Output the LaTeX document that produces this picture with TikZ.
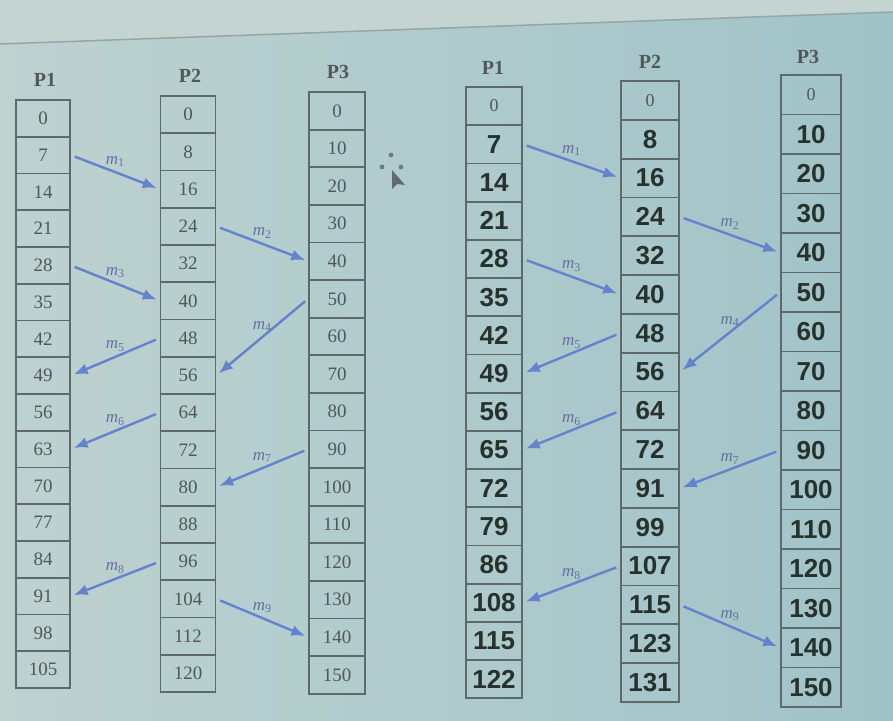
\documentclass[tikz,border=0pt]{standalone}
\usepackage{fontspec}
\setmainfont{Liberation Serif}
\newfontfamily\handfont{Liberation Sans}
\usetikzlibrary{arrows.meta}
\definecolor{bgL}{RGB}{190,210,208}
\definecolor{bgR}{RGB}{160,195,200}
\definecolor{topc}{RGB}{196,212,209}
\definecolor{edgec}{RGB}{150,165,165}
\definecolor{boxline}{RGB}{95,105,105}
\definecolor{printnum}{RGB}{80,88,88}
\definecolor{handnum}{RGB}{40,50,45}
\definecolor{arrowc}{RGB}{100,130,205}
\definecolor{lblc}{RGB}{100,112,165}
\definecolor{cursorc}{RGB}{80,90,95}
\tikzset{
  cellL/.style={draw=boxline, line width=1.8pt, inner sep=0pt, text=printnum, font=\fontsize{19}{19}\selectfont},
  cellR/.style={draw=boxline, line width=1.8pt, inner sep=0pt, text=handnum, font=\handfont\bfseries\fontsize{26}{26}\selectfont},
  head/.style={text=printnum, font=\bfseries\fontsize{20}{20}\selectfont},
  msg/.style={draw=arrowc, line width=2.4pt, -{Latex[length=14pt,width=11pt]}, shorten <=4pt, shorten >=3pt},
  lbl/.style={text=lblc, font=\fontsize{17}{17}\selectfont\itshape, inner sep=2pt, above=2pt, midway}
}
\newcommand\clkcol[7]{%
  \foreach \cv [count=\ci from 0] in {#7} {
    \node[#6, minimum width=#4pt, minimum height=#5pt] (#1-\ci) at (#2, {#3+(\ci+0.5)*#5}) {\cv};
  }
}
\newcommand\mlab[1]{m\textsubscript{\upshape #1}}
\newcommand\pzero{{\rmfamily\mdseries\color{printnum}\fontsize{18}{18}\selectfont 0}}
\begin{document}
\begin{tikzpicture}[x=1pt,y=-1pt]
\useasboundingbox (0,0) rectangle (893,720);
\fill[left color=bgL, right color=bgR] (0,0) rectangle (893,720);
\fill[topc] (0,0) -- (893,0) -- (893,12) -- (0,44) -- cycle;
\draw[edgec, line width=1.5pt] (0,44) -- (893,12);

% left diagram (printed)
\node[head] (hL1) at (45,80) {P1};
\node[head] (hL2) at (190,76) {P2};
\node[head] (hL3) at (338,72) {P3};
\clkcol{L1}{43}{100}{54}{36.75}{cellL}{0,7,14,21,28,35,42,49,56,63,70,77,84,91,98,105}
\clkcol{L2}{188}{96}{55}{37.25}{cellL}{0,8,16,24,32,40,48,56,64,72,80,88,96,104,112,120}
\clkcol{L3}{337}{92}{56}{37.6}{cellL}{0,10,20,30,40,50,60,70,80,90,100,110,120,130,140,150}

\draw[msg] (L1-1.east) -- (L2-2.west) node[lbl] {\mlab{1}};
\draw[msg] (L2-3.east) -- (L3-4.west) node[lbl] {\mlab{2}};
\draw[msg] (L1-4.east) -- (L2-5.west) node[lbl] {\mlab{3}};
\draw[msg] (L3-5.west) -- (L2-7.east) node[lbl] {\mlab{4}};
\draw[msg] (L2-6.west) -- (L1-7.east) node[lbl] {\mlab{5}};
\draw[msg] (L2-8.west) -- (L1-9.east) node[lbl] {\mlab{6}};
\draw[msg] (L3-9.west) -- (L2-10.east) node[lbl] {\mlab{7}};
\draw[msg] (L2-12.west) -- (L1-13.east) node[lbl] {\mlab{8}};
\draw[msg] (L2-13.east) -- (L3-14.west) node[lbl] {\mlab{9}};

% cursor
\fill[cursorc, opacity=0.7] (391,155) circle (2.4);
\fill[cursorc, opacity=0.7] (382,167) circle (2.4);
\fill[cursorc, opacity=0.7] (401,167) circle (2.4);
\fill[cursorc, opacity=0.85] (392,170) -- (392,189) -- (397,184) -- (405,185) -- cycle;

% right diagram (handwritten)
\node[head] (hR1) at (493,68) {P1};
\node[head] (hR2) at (650,62) {P2};
\node[head] (hR3) at (808,57) {P3};
\clkcol{R1}{494}{87}{56}{38.2}{cellR}{\pzero,7,14,21,28,35,42,49,56,65,72,79,86,108,115,122}
\clkcol{R2}{650}{81}{58}{38.8}{cellR}{\pzero,8,16,24,32,40,48,56,64,72,91,99,107,115,123,131}
\clkcol{R3}{811}{75}{60}{39.5}{cellR}{\pzero,10,20,30,40,50,60,70,80,90,100,110,120,130,140,150}

\draw[msg] (R1-1.east) -- (R2-2.west) node[lbl] {\mlab{1}};
\draw[msg] (R2-3.east) -- (R3-4.west) node[lbl] {\mlab{2}};
\draw[msg] (R1-4.east) -- (R2-5.west) node[lbl] {\mlab{3}};
\draw[msg] (R3-5.west) -- (R2-7.east) node[lbl] {\mlab{4}};
\draw[msg] (R2-6.west) -- (R1-7.east) node[lbl] {\mlab{5}};
\draw[msg] (R2-8.west) -- (R1-9.east) node[lbl] {\mlab{6}};
\draw[msg] (R3-9.west) -- (R2-10.east) node[lbl] {\mlab{7}};
\draw[msg] (R2-12.west) -- (R1-13.east) node[lbl] {\mlab{8}};
\draw[msg] (R2-13.east) -- (R3-14.west) node[lbl] {\mlab{9}};
\end{tikzpicture}
\end{document}
